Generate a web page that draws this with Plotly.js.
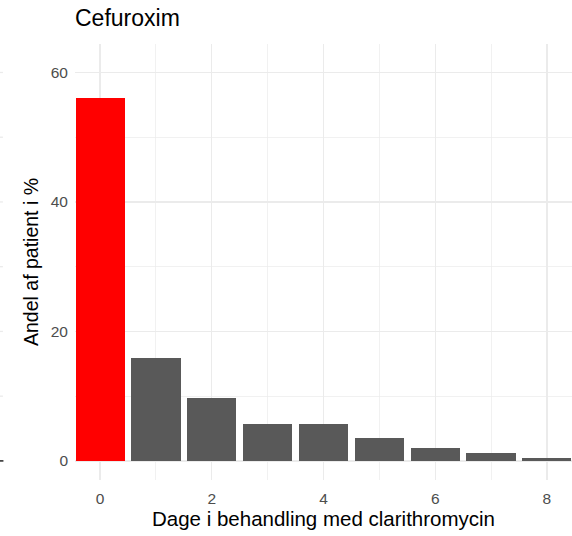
<!DOCTYPE html>
<html>
<head>
<meta charset="utf-8">
<script src="https://cdn.plot.ly/plotly-3.0.1.min.js"></script>
<style>html,body{margin:0;padding:0;background:#fff;}</style>
</head>
<body>
<div id="chart" style="width:572px;height:536px;"></div>
<script>
// Data
const days = [0, 1, 2, 3, 4, 5, 6, 7, 8];
const percent = [56.0, 15.9, 9.7, 5.7, 5.7, 3.55, 2.0, 1.25, 0.45];
const xTicks = [0, 2, 4, 6, 8];
const yTicks = [0, 20, 40, 60];
const titleText = "Cefuroxim";
const xTitle = "Dage i behandling med clarithromycin";
const yTitle = "Andel af patient i %";

const barColors = days.map(d => d === 0 ? "#FF0000" : "#595959");

const font = "Liberation Sans, Arial, Helvetica, sans-serif";

// stray edge marks from neighbouring panel
const shapes = [];
[10, 20, 30, 40, 50, 60].forEach(v => {
  shapes.push({type: "line", xref: "paper", yref: "y", x0: -0.152, x1: -0.145, y0: v, y1: v,
    line: {color: "#EBEBEB", width: 1.3}});
});
shapes.push({type: "line", xref: "paper", yref: "y", x0: -0.152, x1: -0.144, y0: 0, y1: 0,
  line: {color: "#333333", width: 1.6}});

const trace = {
  type: "bar",
  x: days,
  y: percent,
  width: 0.88,
  marker: {color: barColors, line: {width: 0}},
  hoverinfo: "x+y"
};

const layout = {
  width: 572,
  height: 536,
  margin: {l: 75, r: 0, t: 44, b: 56, pad: 0},
  paper_bgcolor: "#ffffff",
  plot_bgcolor: "#ffffff",
  showlegend: false,
  bargap: 0,
  title: {
    text: titleText,
    font: {family: font, size: 23, color: "#000000"},
    x: 0, xref: "paper", xanchor: "left",
    y: 1 - 18 / 536, yref: "container", yanchor: "middle"
  },
  xaxis: {
    range: [-0.45, 8.45],
    tickvals: xTicks,
    ticktext: xTicks.map(String),
    ticks: "",
    ticklabelstandoff: 7,
    showline: false,
    zeroline: false,
    showgrid: true,
    gridcolor: "#EBEBEB",
    gridwidth: 1.3,
    minor: {tickvals: [1, 3, 5, 7], showgrid: true, gridcolor: "#EBEBEB", gridwidth: 0.7},
    tickfont: {family: font, size: 15.5, color: "#4D4D4D"},
    title: {text: xTitle, font: {family: font, size: 20.5, color: "#000000"}, standoff: 6}
  },
  yaxis: {
    range: [-2.95, 64.4],
    tickvals: yTicks,
    ticktext: yTicks.map(String),
    ticks: "",
    ticklabelstandoff: 6,
    showline: false,
    zeroline: false,
    showgrid: true,
    gridcolor: "#EBEBEB",
    gridwidth: 1.3,
    minor: {tickvals: [10, 30, 50], showgrid: true, gridcolor: "#EBEBEB", gridwidth: 0.7},
    tickfont: {family: font, size: 15.5, color: "#4D4D4D"},
    title: {text: yTitle, font: {family: font, size: 19.5, color: "#000000"}, standoff: 6}
  },
  shapes: shapes
};

Plotly.newPlot("chart", [trace], layout, {displayModeBar: false, staticPlot: true});
</script>
</body>
</html>
